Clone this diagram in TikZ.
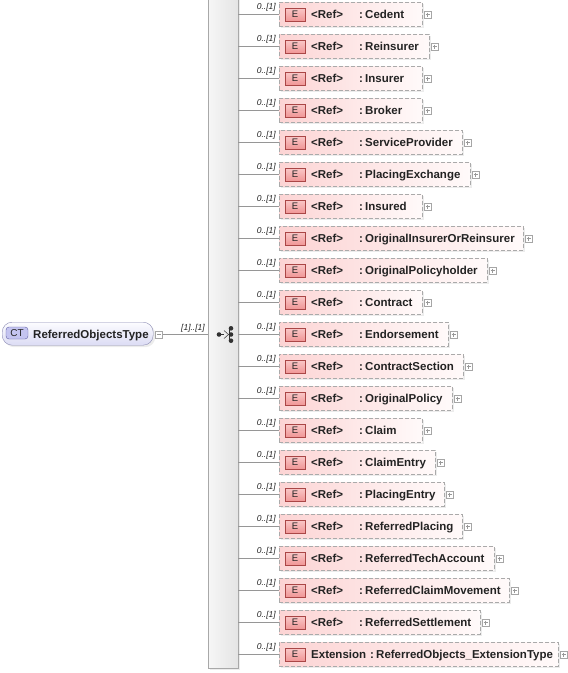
\documentclass[tikz,border=0pt]{standalone}
\usepackage{fontspec}
\setmainfont{Liberation Sans}
\usetikzlibrary{shadows}
\definecolor{elL}{RGB}{252,212,212}
\definecolor{elR}{RGB}{255,250,250}
\definecolor{elBorder}{RGB}{170,170,170}
\definecolor{badgeL}{RGB}{240,150,150}
\definecolor{badgeR}{RGB}{250,200,200}
\definecolor{badgeBorder}{RGB}{170,70,70}
\definecolor{lineGray}{RGB}{150,150,150}
\definecolor{barL}{RGB}{246,246,246}
\definecolor{barR}{RGB}{228,228,228}
\definecolor{barBorder}{RGB}{168,168,168}
\definecolor{ctTop}{RGB}{252,252,255}
\definecolor{ctBot}{RGB}{220,220,244}
\definecolor{ctBorder}{RGB}{140,140,180}
\definecolor{ctBadge}{RGB}{196,196,240}
\definecolor{ctBadgeBorder}{RGB}{95,95,165}
\definecolor{txt}{RGB}{35,35,35}
\definecolor{seqc}{RGB}{50,50,50}
\begin{document}
\begin{tikzpicture}[x=1pt,y=-1pt,
  elbox/.style={draw=elBorder, dash pattern=on 4pt off 2pt, left color=elL, right color=elR,
    minimum height=24pt, inner sep=0pt, anchor=north west,
    drop shadow={opacity=0.15, shadow xshift=2pt, shadow yshift=-2pt}},
  ebadge/.style={draw=badgeBorder, top color=badgeR, bottom color=badgeL, minimum width=20pt,
    minimum height=13pt, inner sep=0pt, font=\fontsize{9.5}{10}\selectfont, text=txt},
  reftext/.style={inner sep=0pt, font=\fontsize{11.5}{13}\selectfont\bfseries, text=txt},
  card/.style={inner sep=0pt, font=\fontsize{8.5}{9}\selectfont\itshape, text=txt},
  plusbox/.style={draw=gray!70, fill=white, minimum size=7pt, inner sep=0pt},
  plusline/.style={draw=gray!80, line width=0.5pt},
  conn/.style={draw=lineGray, line width=0.7pt},
  barbox/.style={draw=barBorder, left color=barL, right color=barR, minimum width=30pt,
    minimum height=670pt, inner sep=0pt, anchor=north west,
    drop shadow={opacity=0.15, shadow xshift=2pt, shadow yshift=-2pt}},
  ctbox/.style={draw=ctBorder, rounded corners=10pt, top color=ctTop, bottom color=ctBot,
    minimum width=151pt, minimum height=23pt, inner sep=0pt, anchor=north west,
    drop shadow={opacity=0.15, shadow xshift=2pt, shadow yshift=-2pt}},
  ctbadge/.style={draw=ctBadgeBorder, fill=ctBadge, rounded corners=3pt, minimum width=22pt,
    minimum height=12pt, inner sep=0pt, font=\fontsize{10}{10}\selectfont, text=txt}
]
\useasboundingbox (0,0) rectangle (568,673);

% sequence bar
\node[barbox] (bar) at (208,-2) {};

% complex type
\node[ctbox] (ct) at (2,322) {};
\node[ctbadge] (ctb) at (17,333) {CT};
\node[reftext, anchor=base west] (ctname) at (33,338.5) {ReferredObjectsType};
\node[plusbox] (minus) at (159,334.5) {};
\draw[plusline] (minus.center) +(-2,0) -- +(2,0);
\draw[conn] (minus.east) -- (bar.west |- minus.east);
\node[card, anchor=base east] (ctcard) at (205,330) {[1]..[1]};

% sequence icon
\fill[seqc] (219,334.5) circle (2.3);
\draw[seqc, line width=0.8pt] (219,334.5) -- (224,334.5);
\draw[seqc, line width=0.5pt] (224,330.5) -- (228.5,334.5) -- (224,338.5);
\draw[seqc, line width=0.7pt] (229.5,328.3) -- (229.5,340.7);
\fill[seqc] (231,328.3) circle (2.3);
\fill[seqc] (231,334.5) circle (2.3);
\fill[seqc] (231,340.7) circle (2.3);

% elements
\foreach \i/\lbl/\nm/\r/\cx in {
  0/<Ref>/Cedent/422/359,
  1/<Ref>/Reinsurer/429/359,
  2/<Ref>/Insurer/422/359,
  3/<Ref>/Broker/422/359,
  4/<Ref>/ServiceProvider/462/359,
  5/<Ref>/PlacingExchange/470/359,
  6/<Ref>/Insured/422/359,
  7/<Ref>/OriginalInsurerOrReinsurer/523/359,
  8/<Ref>/OriginalPolicyholder/487/359,
  9/<Ref>/Contract/422/359,
  10/<Ref>/Endorsement/448/359,
  11/<Ref>/ContractSection/463/359,
  12/<Ref>/OriginalPolicy/452/359,
  13/<Ref>/Claim/422/359,
  14/<Ref>/ClaimEntry/435/359,
  15/<Ref>/PlacingEntry/444/359,
  16/<Ref>/ReferredPlacing/462/359,
  17/<Ref>/ReferredTechAccount/494/359,
  18/<Ref>/ReferredClaimMovement/509/359,
  19/<Ref>/ReferredSettlement/480/359,
  20/Extension/ReferredObjects\_ExtensionType/558/370}{
  \pgfmathsetmacro\rowtop{2+32*\i}
  \pgfmathsetmacro\w{\r-279}
  \node[elbox, minimum width=\w pt] (box\i) at (279,\rowtop) {};
  \node[ebadge] (e\i) at (295,\rowtop+12.5) {E};
  \node[reftext, anchor=base west] (ref\i) at (311,\rowtop+16.5) {\lbl};
  \node[reftext, anchor=base west] (col\i) at (\cx,\rowtop+16.5) {:};
  \node[reftext, anchor=base west] (nm\i) at (\cx+6,\rowtop+16.5) {\nm};
  \node[plusbox] (plus\i) at (\r+5.5,\rowtop+12.5) {};
  \draw[plusline] (plus\i.center) +(-2,0) -- +(2,0) (plus\i.center) +(0,-2) -- +(0,2);
  \draw[conn] (bar.east |- box\i.west) -- (box\i.west);
  \node[card, anchor=base east] (card\i) at (276,\rowtop+7.5) {0..[1]};
}
\end{tikzpicture}
\end{document}
